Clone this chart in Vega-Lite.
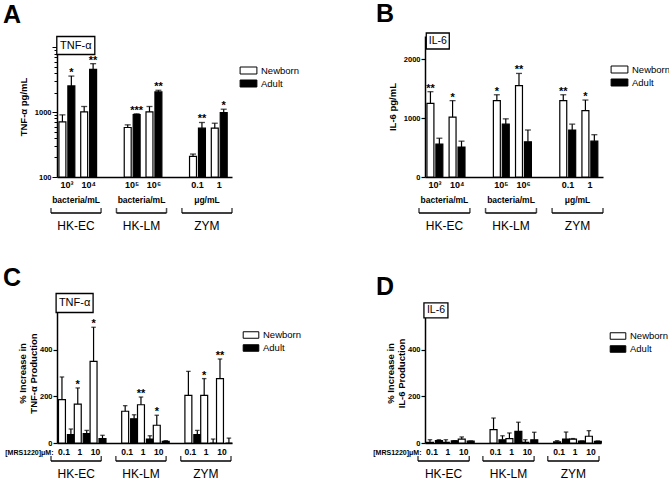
{
  "$schema": "https://vega.github.io/schema/vega-lite/v6.json",
  "background": "white",
  "padding": {"left": 3, "top": 2, "right": 0, "bottom": 0},
  "config": {
    "font": "Liberation Sans",
    "view": {"stroke": null},
    "axis": {"domainColor": "black", "tickColor": "black", "labelColor": "black", "titleColor": "black", "grid": false},
    "legend": {"labelColor": "black"},
    "title": {"color": "black"},
    "text": {"color": "black"}
  },
  "datasets": {
    "A": [
      {"stim": "HK-EC", "dose": "10³", "age": "Newborn", "mean": 710, "upper": 910, "sig": ""},
      {"stim": "HK-EC", "dose": "10³", "age": "Adult", "mean": 2540, "upper": 3610, "sig": "*"},
      {"stim": "HK-EC", "dose": "10⁴", "age": "Newborn", "mean": 1010, "upper": 1225, "sig": ""},
      {"stim": "HK-EC", "dose": "10⁴", "age": "Adult", "mean": 4580, "upper": 5610, "sig": "**"},
      {"stim": "HK-LM", "dose": "10⁵", "age": "Newborn", "mean": 581, "upper": 638, "sig": ""},
      {"stim": "HK-LM", "dose": "10⁵", "age": "Adult", "mean": 921, "upper": 945, "sig": "***"},
      {"stim": "HK-LM", "dose": "10⁶", "age": "Newborn", "mean": 1010, "upper": 1225, "sig": ""},
      {"stim": "HK-LM", "dose": "10⁶", "age": "Adult", "mean": 2055, "upper": 2180, "sig": "**"},
      {"stim": "ZYM", "dose": "0.1", "age": "Newborn", "mean": 208, "upper": 226, "sig": ""},
      {"stim": "ZYM", "dose": "0.1", "age": "Adult", "mean": 567, "upper": 694, "sig": "**"},
      {"stim": "ZYM", "dose": "1", "age": "Newborn", "mean": 567, "upper": 676, "sig": ""},
      {"stim": "ZYM", "dose": "1", "age": "Adult", "mean": 988, "upper": 1112, "sig": "*"}
    ],
    "B": [
      {"stim": "HK-EC", "dose": "10³", "age": "Newborn", "mean": 1254, "upper": 1452, "sig": "**"},
      {"stim": "HK-EC", "dose": "10³", "age": "Adult", "mean": 560, "upper": 660, "sig": ""},
      {"stim": "HK-EC", "dose": "10⁴", "age": "Newborn", "mean": 1020, "upper": 1300, "sig": "*"},
      {"stim": "HK-EC", "dose": "10⁴", "age": "Adult", "mean": 510, "upper": 610, "sig": ""},
      {"stim": "HK-LM", "dose": "10⁵", "age": "Newborn", "mean": 1300, "upper": 1400, "sig": "*"},
      {"stim": "HK-LM", "dose": "10⁵", "age": "Adult", "mean": 900, "upper": 990, "sig": ""},
      {"stim": "HK-LM", "dose": "10⁶", "age": "Newborn", "mean": 1554, "upper": 1763, "sig": "**"},
      {"stim": "HK-LM", "dose": "10⁶", "age": "Adult", "mean": 600, "upper": 800, "sig": ""},
      {"stim": "ZYM", "dose": "0.1", "age": "Newborn", "mean": 1300, "upper": 1400, "sig": "**"},
      {"stim": "ZYM", "dose": "0.1", "age": "Adult", "mean": 800, "upper": 900, "sig": ""},
      {"stim": "ZYM", "dose": "1", "age": "Newborn", "mean": 1130, "upper": 1310, "sig": "*"},
      {"stim": "ZYM", "dose": "1", "age": "Adult", "mean": 610, "upper": 720, "sig": ""}
    ],
    "C": [
      {"stim": "HK-EC", "dose": "0.1", "slot": "HK-EC 0.1", "age": "Newborn", "mean": 186, "upper": 283, "sig": ""},
      {"stim": "HK-EC", "dose": "0.1", "slot": "HK-EC 0.1", "age": "Adult", "mean": 36, "upper": 60, "sig": ""},
      {"stim": "HK-EC", "dose": "1", "slot": "HK-EC 1", "age": "Newborn", "mean": 167, "upper": 236, "sig": "*"},
      {"stim": "HK-EC", "dose": "1", "slot": "HK-EC 1", "age": "Adult", "mean": 40, "upper": 54, "sig": ""},
      {"stim": "HK-EC", "dose": "10", "slot": "HK-EC 10", "age": "Newborn", "mean": 350, "upper": 496, "sig": "*"},
      {"stim": "HK-EC", "dose": "10", "slot": "HK-EC 10", "age": "Adult", "mean": 19, "upper": 33, "sig": ""},
      {"stim": "HK-LM", "dose": "0.1", "slot": "HK-LM 0.1", "age": "Newborn", "mean": 136, "upper": 160, "sig": ""},
      {"stim": "HK-LM", "dose": "0.1", "slot": "HK-LM 0.1", "age": "Adult", "mean": 104, "upper": 121, "sig": ""},
      {"stim": "HK-LM", "dose": "1", "slot": "HK-LM 1", "age": "Newborn", "mean": 164, "upper": 197, "sig": "**"},
      {"stim": "HK-LM", "dose": "1", "slot": "HK-LM 1", "age": "Adult", "mean": 17, "upper": 31, "sig": ""},
      {"stim": "HK-LM", "dose": "10", "slot": "HK-LM 10", "age": "Newborn", "mean": 76, "upper": 119, "sig": "*"},
      {"stim": "HK-LM", "dose": "10", "slot": "HK-LM 10", "age": "Adult", "mean": 7, "upper": 10, "sig": ""},
      {"stim": "ZYM", "dose": "0.1", "slot": "ZYM 0.1", "age": "Newborn", "mean": 204, "upper": 307, "sig": ""},
      {"stim": "ZYM", "dose": "0.1", "slot": "ZYM 0.1", "age": "Adult", "mean": 36, "upper": 54, "sig": ""},
      {"stim": "ZYM", "dose": "1", "slot": "ZYM 1", "age": "Newborn", "mean": 204, "upper": 276, "sig": "*"},
      {"stim": "ZYM", "dose": "1", "slot": "ZYM 1", "age": "Adult", "mean": 0, "upper": 17, "sig": ""},
      {"stim": "ZYM", "dose": "10", "slot": "ZYM 10", "age": "Newborn", "mean": 276, "upper": 360, "sig": "**"},
      {"stim": "ZYM", "dose": "10", "slot": "ZYM 10", "age": "Adult", "mean": 0, "upper": 21, "sig": ""}
    ],
    "D": [
      {"stim": "HK-EC", "dose": "0.1", "slot": "HK-EC 0.1", "age": "Newborn", "mean": 3, "upper": 14, "sig": ""},
      {"stim": "HK-EC", "dose": "0.1", "slot": "HK-EC 0.1", "age": "Adult", "mean": 10, "upper": 14, "sig": ""},
      {"stim": "HK-EC", "dose": "1", "slot": "HK-EC 1", "age": "Newborn", "mean": 3, "upper": 14, "sig": ""},
      {"stim": "HK-EC", "dose": "1", "slot": "HK-EC 1", "age": "Adult", "mean": 9, "upper": 10, "sig": ""},
      {"stim": "HK-EC", "dose": "10", "slot": "HK-EC 10", "age": "Newborn", "mean": 17, "upper": 26, "sig": ""},
      {"stim": "HK-EC", "dose": "10", "slot": "HK-EC 10", "age": "Adult", "mean": 8, "upper": 9, "sig": ""},
      {"stim": "HK-LM", "dose": "0.1", "slot": "HK-LM 0.1", "age": "Newborn", "mean": 57, "upper": 107, "sig": ""},
      {"stim": "HK-LM", "dose": "0.1", "slot": "HK-LM 0.1", "age": "Adult", "mean": 14, "upper": 31, "sig": ""},
      {"stim": "HK-LM", "dose": "1", "slot": "HK-LM 1", "age": "Newborn", "mean": 19, "upper": 43, "sig": ""},
      {"stim": "HK-LM", "dose": "1", "slot": "HK-LM 1", "age": "Adult", "mean": 50, "upper": 89, "sig": ""},
      {"stim": "HK-LM", "dose": "10", "slot": "HK-LM 10", "age": "Newborn", "mean": 3, "upper": 14, "sig": ""},
      {"stim": "HK-LM", "dose": "10", "slot": "HK-LM 10", "age": "Adult", "mean": 14, "upper": 46, "sig": ""},
      {"stim": "ZYM", "dose": "0.1", "slot": "ZYM 0.1", "age": "Newborn", "mean": 5, "upper": 10, "sig": ""},
      {"stim": "ZYM", "dose": "0.1", "slot": "ZYM 0.1", "age": "Adult", "mean": 17, "upper": 47, "sig": ""},
      {"stim": "ZYM", "dose": "1", "slot": "ZYM 1", "age": "Newborn", "mean": 17, "upper": 19, "sig": ""},
      {"stim": "ZYM", "dose": "1", "slot": "ZYM 1", "age": "Adult", "mean": 8, "upper": 9, "sig": ""},
      {"stim": "ZYM", "dose": "10", "slot": "ZYM 10", "age": "Newborn", "mean": 29, "upper": 53, "sig": ""},
      {"stim": "ZYM", "dose": "10", "slot": "ZYM 10", "age": "Adult", "mean": 7, "upper": 9, "sig": ""}
    ],
    "stripAB": [
      {"group": "HK-EC", "unit": "bacteria/mL"},
      {"group": "HK-LM", "unit": "bacteria/mL"},
      {"group": "ZYM", "unit": "μg/mL"}
    ],
    "stripCD": [
      {"group": "HK-EC"},
      {"group": "HK-LM"},
      {"group": "ZYM"}
    ]
  },
  "columns": 2,
  "spacing": {"row": 33, "column": 70},
  "resolve": {"scale": {"fill": "independent"}, "legend": {"fill": "independent"}},
  "concat": [
    {
      "spacing": 7,
      "vconcat": [
        {
          "width": 175, "height": 141,
          "title": {"text": "A", "anchor": "start", "frame": "group", "dx": -54, "fontSize": 25, "fontWeight": "bold", "offset": 6},
          "layer": [
            {
              "data": {"name": "A"},
              "encoding": {
                "x": {"field": "dose", "type": "nominal", "sort": null,
                  "scale": {"domain": ["10³", "10⁴", " ", "10⁵", "10⁶", "  ", "0.1", "1"], "paddingInner": 0.18, "paddingOuter": 0.11, "align": 0.2},
                  "axis": {"title": null, "ticks": false, "labelAngle": 0, "domainWidth": 1.5, "labelFontWeight": "bold", "labelFontSize": 9, "labelPadding": 3, "labelOverlap": false}},
                "xOffset": {"field": "age", "type": "nominal", "scale": {"domain": ["Newborn", "Adult"], "paddingInner": 0.222, "paddingOuter": 0.11}}
              },
              "layer": [
                {
                  "mark": {"type": "bar", "stroke": "black", "strokeWidth": 1.2},
                  "encoding": {
                    "y": {"field": "mean", "type": "quantitative", "scale": {"type": "log", "domain": [100, 15000], "nice": false},
                      "axis": {"title": "TNF-α pg/mL", "values": [100, 200, 300, 400, 500, 600, 700, 800, 900, 1000, 2000, 3000, 4000, 5000, 6000, 7000, 8000, 9000, 10000],
                        "labelExpr": "datum.value == 100 || datum.value == 1000 ? datum.value + '' : ''",
                        "tickSize": {"condition": {"test": "datum.value == 100 || datum.value == 1000 || datum.value == 10000", "value": 5}, "value": 3},
                        "domainWidth": 1.5, "tickWidth": 1, "labelFontWeight": "bold", "labelFontSize": 7.5, "labelPadding": 1,
                        "titleFontSize": 9.5, "titleFontWeight": "bold", "titlePadding": 6}},
                    "y2": {"datum": 100},
                    "fill": {"field": "age", "type": "nominal", "scale": {"domain": ["Newborn", "Adult"], "range": ["white", "black"]},
                      "legend": {"title": null, "orient": "none", "legendX": 184, "legendY": 27, "symbolType": "M-1.2,-0.5H1.2V0.5H-1.2Z", "symbolSize": 196, "symbolStrokeColor": "black", "symbolStrokeWidth": 1, "labelFontSize": 9.5, "labelOffset": 5, "rowPadding": 0, "padding": 0}}
                  }
                },
                {"mark": {"type": "rule", "color": "black", "strokeWidth": 1.2},
                  "encoding": {"y": {"field": "mean", "type": "quantitative"}, "y2": {"field": "upper"}}},
                {"mark": {"type": "tick", "color": "black", "thickness": 1.3, "size": 6, "orient": "horizontal"},
                  "encoding": {"y": {"field": "upper", "type": "quantitative"}}},
                {"mark": {"type": "text", "fontSize": 11, "fontWeight": "bold", "baseline": "alphabetic"},
                  "encoding": {"y": {"field": "upper", "type": "quantitative"}, "text": {"field": "sig"}}}
              ]
            },
            {
              "data": {"values": [{"label": "TNF-α"}]},
              "mark": {"type": "point", "shape": "M-1,-0.474H1V0.474H-1Z", "size": 1444, "filled": true, "fill": "white", "stroke": "black", "strokeWidth": 1.3, "opacity": 1},
              "encoding": {"x": {"datum": "10³", "type": "nominal", "bandPosition": 1}, "y": {"datum": 10700, "type": "quantitative"}}
            },
            {
              "data": {"values": [{"label": "TNF-α"}]},
              "mark": {"type": "text", "fontSize": 11},
              "encoding": {"x": {"datum": "10³", "type": "nominal", "bandPosition": 1}, "y": {"datum": 10700, "type": "quantitative"}, "text": {"field": "label"}}
            }
          ]
        },
        {
          "width": 175, "height": 26,
          "data": {"name": "stripAB"},
          "layer": [
            {"mark": {"type": "text", "fontSize": 8.5, "fontWeight": "bold", "baseline": "middle"},
              "encoding": {
                "x": {"field": "group", "type": "nominal", "sort": null, "scale": {"domain": ["HK-EC", "HK-LM", "ZYM"], "range": [-6, 175], "paddingInner": 0.235, "paddingOuter": 0}, "axis": null},
                "y": {"datum": "unit", "type": "nominal", "scale": {"type": "point", "domain": ["unit", "bracket", "name"], "padding": 0}, "axis": null},
                "text": {"field": "unit"}}},
            {"mark": {"type": "rule", "strokeWidth": 1.5, "color": "black"},
              "encoding": {"x": {"field": "group", "type": "nominal", "bandPosition": 0}, "x2": {"field": "group", "bandPosition": 1}, "y": {"datum": "bracket", "type": "nominal"}}},
            {"mark": {"type": "tick", "orient": "vertical", "size": 5, "thickness": 1.5, "yOffset": -2.5, "color": "black"},
              "encoding": {"x": {"field": "group", "type": "nominal", "bandPosition": 0}, "y": {"datum": "bracket", "type": "nominal"}}},
            {"mark": {"type": "tick", "orient": "vertical", "size": 5, "thickness": 1.5, "yOffset": -2.5, "color": "black"},
              "encoding": {"x": {"field": "group", "type": "nominal", "bandPosition": 1}, "y": {"datum": "bracket", "type": "nominal"}}},
            {"mark": {"type": "text", "fontSize": 12, "baseline": "middle"},
              "encoding": {"x": {"field": "group", "type": "nominal"}, "y": {"datum": "name", "type": "nominal"}, "text": {"field": "group"}}}
          ]
        }
      ]
    },
    {
      "spacing": 7,
      "vconcat": [
        {
          "width": 178, "height": 141,
          "title": {"text": "B", "anchor": "start", "frame": "group", "dx": -49, "fontSize": 25, "fontWeight": "bold", "offset": 3},
          "layer": [
            {
              "data": {"name": "B"},
              "encoding": {
                "x": {"field": "dose", "type": "nominal", "sort": null,
                  "scale": {"domain": ["10³", "10⁴", " ", "10⁵", "10⁶", "  ", "0.1", "1"], "paddingInner": 0.18, "paddingOuter": 0.11, "align": 0.2},
                  "axis": {"title": null, "ticks": false, "labelAngle": 0, "domainWidth": 1.5, "labelFontWeight": "bold", "labelFontSize": 9, "labelPadding": 3, "labelOverlap": false}},
                "xOffset": {"field": "age", "type": "nominal", "scale": {"domain": ["Newborn", "Adult"], "paddingInner": 0.222, "paddingOuter": 0.11}}
              },
              "layer": [
                {
                  "mark": {"type": "bar", "stroke": "black", "strokeWidth": 1.2},
                  "encoding": {
                    "y": {"field": "mean", "type": "quantitative", "scale": {"domain": [0, 2400], "nice": false},
                      "axis": {"title": "IL-6 pg/mL", "values": [0, 500, 1000, 1500, 2000], "format": "d", "tickSize": 4,
                        "domainWidth": 1.5, "tickWidth": 1.2, "labelFontWeight": "bold", "labelFontSize": 7.5, "labelPadding": 1,
                        "titleFontSize": 9.5, "titleFontWeight": "bold", "titlePadding": 6}},
                    "fill": {"field": "age", "type": "nominal", "scale": {"domain": ["Newborn", "Adult"], "range": ["white", "black"]},
                      "legend": {"title": null, "orient": "none", "legendX": 187, "legendY": 26, "symbolType": "M-1.2,-0.5H1.2V0.5H-1.2Z", "symbolSize": 196, "symbolStrokeColor": "black", "symbolStrokeWidth": 1, "labelFontSize": 9.5, "labelOffset": 5, "rowPadding": 0, "padding": 0}}
                  }
                },
                {"mark": {"type": "rule", "color": "black", "strokeWidth": 1.2},
                  "encoding": {"y": {"field": "mean", "type": "quantitative"}, "y2": {"field": "upper"}}},
                {"mark": {"type": "tick", "color": "black", "thickness": 1.3, "size": 6, "orient": "horizontal"},
                  "encoding": {"y": {"field": "upper", "type": "quantitative"}}},
                {"mark": {"type": "text", "fontSize": 11, "fontWeight": "bold", "baseline": "alphabetic"},
                  "encoding": {"y": {"field": "upper", "type": "quantitative"}, "text": {"field": "sig"}}}
              ]
            },
            {
              "data": {"values": [{"label": "IL-6"}]},
              "mark": {"type": "point", "shape": "M-1,-0.696H1V0.696H-1Z", "size": 529, "filled": true, "fill": "white", "stroke": "black", "strokeWidth": 1.3, "opacity": 1},
              "encoding": {"x": {"datum": "10³", "type": "nominal", "bandPosition": 0.65}, "y": {"datum": 2315, "type": "quantitative"}}
            },
            {
              "data": {"values": [{"label": "IL-6"}]},
              "mark": {"type": "text", "fontSize": 10.5},
              "encoding": {"x": {"datum": "10³", "type": "nominal", "bandPosition": 0.65}, "y": {"datum": 2315, "type": "quantitative"}, "text": {"field": "label"}}
            }
          ]
        },
        {
          "width": 178, "height": 26,
          "data": {"name": "stripAB"},
          "layer": [
            {"mark": {"type": "text", "fontSize": 8.5, "fontWeight": "bold", "baseline": "middle"},
              "encoding": {
                "x": {"field": "group", "type": "nominal", "sort": null, "scale": {"domain": ["HK-EC", "HK-LM", "ZYM"], "range": [-6, 178], "paddingInner": 0.235, "paddingOuter": 0}, "axis": null},
                "y": {"datum": "unit", "type": "nominal", "scale": {"type": "point", "domain": ["unit", "bracket", "name"], "padding": 0}, "axis": null},
                "text": {"field": "unit"}}},
            {"mark": {"type": "rule", "strokeWidth": 1.5, "color": "black"},
              "encoding": {"x": {"field": "group", "type": "nominal", "bandPosition": 0}, "x2": {"field": "group", "bandPosition": 1}, "y": {"datum": "bracket", "type": "nominal"}}},
            {"mark": {"type": "tick", "orient": "vertical", "size": 5, "thickness": 1.5, "yOffset": -2.5, "color": "black"},
              "encoding": {"x": {"field": "group", "type": "nominal", "bandPosition": 0}, "y": {"datum": "bracket", "type": "nominal"}}},
            {"mark": {"type": "tick", "orient": "vertical", "size": 5, "thickness": 1.5, "yOffset": -2.5, "color": "black"},
              "encoding": {"x": {"field": "group", "type": "nominal", "bandPosition": 1}, "y": {"datum": "bracket", "type": "nominal"}}},
            {"mark": {"type": "text", "fontSize": 12, "baseline": "middle"},
              "encoding": {"x": {"field": "group", "type": "nominal"}, "y": {"datum": "name", "type": "nominal"}, "text": {"field": "group"}}}
          ]
        }
      ]
    },
    {
      "spacing": 0,
      "vconcat": [
        {
          "width": 175, "height": 140,
          "title": {"text": "C", "anchor": "start", "frame": "group", "dx": -54, "fontSize": 25, "fontWeight": "bold", "offset": 0},
          "layer": [
            {
              "data": {"name": "C"},
              "encoding": {
                "x": {"field": "slot", "type": "nominal", "sort": null,
                  "scale": {"domain": ["HK-EC 0.1", "HK-EC 1", "HK-EC 10", " ", "HK-LM 0.1", "HK-LM 1", "HK-LM 10", "  ", "ZYM 0.1", "ZYM 1", "ZYM 10"], "paddingInner": 0.18, "paddingOuter": 0.127, "align": 0.125},
                  "axis": {"title": "[MRS1220]μM:", "titleAnchor": "start", "titleAlign": "right", "titleBaseline": "middle", "titleX": -4, "titleY": 9.5, "titleFontSize": 7, "titleFontWeight": "bold",
                    "labelExpr": "split(datum.value, ' ')[1]", "ticks": false, "labelAngle": 0, "domainWidth": 1.5, "labelFontWeight": "bold", "labelFontSize": 8.5, "labelPadding": 4, "labelOverlap": false}},
                "xOffset": {"field": "age", "type": "nominal", "scale": {"domain": ["Newborn", "Adult"], "paddingInner": 0.214, "paddingOuter": 0.04}}
              },
              "layer": [
                {
                  "mark": {"type": "bar", "stroke": "black", "strokeWidth": 1.2},
                  "encoding": {
                    "y": {"field": "mean", "type": "quantitative", "scale": {"domain": [0, 600], "nice": false},
                      "axis": {"title": ["% Increase in", "TNF-α Production"], "values": [0, 100, 200, 300, 400, 500], "tickSize": 4,
                        "domainWidth": 1.5, "tickWidth": 1.2, "labelFontWeight": "bold", "labelFontSize": 7.5, "labelPadding": 1,
                        "titleFontSize": 9.5, "titleFontWeight": "bold", "titlePadding": 1, "titleLineHeight": 11}},
                    "fill": {"field": "age", "type": "nominal", "scale": {"domain": ["Newborn", "Adult"], "range": ["white", "black"]},
                      "legend": {"title": null, "orient": "none", "legendX": 187, "legendY": 25, "symbolType": "M-1.2,-0.5H1.2V0.5H-1.2Z", "symbolSize": 169, "symbolStrokeColor": "black", "symbolStrokeWidth": 1, "labelFontSize": 9.5, "labelOffset": 5, "rowPadding": 0, "padding": 0}}
                  }
                },
                {"mark": {"type": "rule", "color": "black", "strokeWidth": 1.2},
                  "encoding": {"y": {"field": "mean", "type": "quantitative"}, "y2": {"field": "upper"}}},
                {"mark": {"type": "tick", "color": "black", "thickness": 1.3, "size": 4.5, "orient": "horizontal"},
                  "encoding": {"y": {"field": "upper", "type": "quantitative"}}},
                {"mark": {"type": "text", "fontSize": 11, "fontWeight": "bold", "baseline": "alphabetic"},
                  "encoding": {"y": {"field": "upper", "type": "quantitative"}, "text": {"field": "sig"}}}
              ]
            },
            {
              "data": {"values": [{"label": "TNF-α"}]},
              "mark": {"type": "point", "shape": "M-1,-0.514H1V0.514H-1Z", "size": 1369, "filled": true, "fill": "white", "stroke": "black", "strokeWidth": 1.3, "opacity": 1},
              "encoding": {"x": {"datum": "HK-EC 1", "type": "nominal", "bandPosition": 0.1}, "y": {"datum": 600, "type": "quantitative"}}
            },
            {
              "data": {"values": [{"label": "TNF-α"}]},
              "mark": {"type": "text", "fontSize": 11},
              "encoding": {"x": {"datum": "HK-EC 1", "type": "nominal", "bandPosition": 0.1}, "y": {"datum": 600, "type": "quantitative"}, "text": {"field": "label"}}
            }
          ]
        },
        {
          "width": 175, "height": 13,
          "data": {"name": "stripCD"},
          "layer": [
            {"mark": {"type": "rule", "strokeWidth": 1.5, "color": "black"},
              "encoding": {
                "x": {"field": "group", "type": "nominal", "sort": null, "bandPosition": 0, "scale": {"domain": ["HK-EC", "HK-LM", "ZYM"], "range": [-6, 174], "paddingInner": 0.225, "paddingOuter": 0}, "axis": null},
                "x2": {"field": "group", "bandPosition": 1},
                "y": {"datum": "bracket", "type": "nominal", "scale": {"type": "point", "domain": ["bracket", "name"], "padding": 0}, "axis": null}}},
            {"mark": {"type": "tick", "orient": "vertical", "size": 5, "thickness": 1.5, "yOffset": -2.5, "color": "black"},
              "encoding": {"x": {"field": "group", "type": "nominal", "bandPosition": 0}, "y": {"datum": "bracket", "type": "nominal"}}},
            {"mark": {"type": "tick", "orient": "vertical", "size": 5, "thickness": 1.5, "yOffset": -2.5, "color": "black"},
              "encoding": {"x": {"field": "group", "type": "nominal", "bandPosition": 1}, "y": {"datum": "bracket", "type": "nominal"}}},
            {"mark": {"type": "text", "fontSize": 12, "baseline": "middle"},
              "encoding": {"x": {"field": "group", "type": "nominal"}, "y": {"datum": "name", "type": "nominal"}, "text": {"field": "group"}}}
          ]
        }
      ]
    },
    {
      "spacing": 0,
      "vconcat": [
        {
          "width": 176, "height": 140,
          "title": {"text": "D", "anchor": "start", "frame": "group", "dx": -49, "fontSize": 25, "fontWeight": "bold", "offset": 0},
          "layer": [
            {
              "data": {"name": "D"},
              "encoding": {
                "x": {"field": "slot", "type": "nominal", "sort": null,
                  "scale": {"domain": ["HK-EC 0.1", "HK-EC 1", "HK-EC 10", " ", "HK-LM 0.1", "HK-LM 1", "HK-LM 10", "  ", "ZYM 0.1", "ZYM 1", "ZYM 10"], "paddingInner": 0.18, "paddingOuter": 0.127, "align": 0.125},
                  "axis": {"title": "[MRS1220]μM:", "titleAnchor": "start", "titleAlign": "right", "titleBaseline": "middle", "titleX": -4, "titleY": 9.5, "titleFontSize": 7, "titleFontWeight": "bold",
                    "labelExpr": "split(datum.value, ' ')[1]", "ticks": false, "labelAngle": 0, "domainWidth": 1.5, "labelFontWeight": "bold", "labelFontSize": 8.5, "labelPadding": 4, "labelOverlap": false}},
                "xOffset": {"field": "age", "type": "nominal", "scale": {"domain": ["Newborn", "Adult"], "paddingInner": 0.214, "paddingOuter": 0.04}}
              },
              "layer": [
                {
                  "mark": {"type": "bar", "stroke": "black", "strokeWidth": 1.2},
                  "encoding": {
                    "y": {"field": "mean", "type": "quantitative", "scale": {"domain": [0, 600], "nice": false},
                      "axis": {"title": ["% Increase in", "IL-6 Production"], "values": [0, 100, 200, 300, 400, 500], "tickSize": 4,
                        "domainWidth": 1.5, "tickWidth": 1.2, "labelFontWeight": "bold", "labelFontSize": 7.5, "labelPadding": 1,
                        "titleFontSize": 9.5, "titleFontWeight": "bold", "titlePadding": 1, "titleLineHeight": 11}},
                    "fill": {"field": "age", "type": "nominal", "scale": {"domain": ["Newborn", "Adult"], "range": ["white", "black"]},
                      "legend": {"title": null, "orient": "none", "legendX": 186, "legendY": 26, "symbolType": "M-1.2,-0.5H1.2V0.5H-1.2Z", "symbolSize": 169, "symbolStrokeColor": "black", "symbolStrokeWidth": 1, "labelFontSize": 9.5, "labelOffset": 5, "rowPadding": 0, "padding": 0}}
                  }
                },
                {"mark": {"type": "rule", "color": "black", "strokeWidth": 1.2},
                  "encoding": {"y": {"field": "mean", "type": "quantitative"}, "y2": {"field": "upper"}}},
                {"mark": {"type": "tick", "color": "black", "thickness": 1.3, "size": 4.5, "orient": "horizontal"},
                  "encoding": {"y": {"field": "upper", "type": "quantitative"}}}
              ]
            },
            {
              "data": {"values": [{"label": "IL-6"}]},
              "mark": {"type": "point", "shape": "M-1,-0.625H1V0.625H-1Z", "size": 576, "filled": true, "fill": "white", "stroke": "black", "strokeWidth": 1.3, "opacity": 1},
              "encoding": {"x": {"datum": "HK-EC 0.1", "type": "nominal", "bandPosition": 0.8}, "y": {"datum": 568, "type": "quantitative"}}
            },
            {
              "data": {"values": [{"label": "IL-6"}]},
              "mark": {"type": "text", "fontSize": 10.5},
              "encoding": {"x": {"datum": "HK-EC 0.1", "type": "nominal", "bandPosition": 0.8}, "y": {"datum": 568, "type": "quantitative"}, "text": {"field": "label"}}
            }
          ]
        },
        {
          "width": 176, "height": 13,
          "data": {"name": "stripCD"},
          "layer": [
            {"mark": {"type": "rule", "strokeWidth": 1.5, "color": "black"},
              "encoding": {
                "x": {"field": "group", "type": "nominal", "sort": null, "bandPosition": 0, "scale": {"domain": ["HK-EC", "HK-LM", "ZYM"], "range": [-7, 174], "paddingInner": 0.21, "paddingOuter": 0}, "axis": null},
                "x2": {"field": "group", "bandPosition": 1},
                "y": {"datum": "bracket", "type": "nominal", "scale": {"type": "point", "domain": ["bracket", "name"], "padding": 0}, "axis": null}}},
            {"mark": {"type": "tick", "orient": "vertical", "size": 5, "thickness": 1.5, "yOffset": -2.5, "color": "black"},
              "encoding": {"x": {"field": "group", "type": "nominal", "bandPosition": 0}, "y": {"datum": "bracket", "type": "nominal"}}},
            {"mark": {"type": "tick", "orient": "vertical", "size": 5, "thickness": 1.5, "yOffset": -2.5, "color": "black"},
              "encoding": {"x": {"field": "group", "type": "nominal", "bandPosition": 1}, "y": {"datum": "bracket", "type": "nominal"}}},
            {"mark": {"type": "text", "fontSize": 12, "baseline": "middle"},
              "encoding": {"x": {"field": "group", "type": "nominal"}, "y": {"datum": "name", "type": "nominal"}, "text": {"field": "group"}}}
          ]
        }
      ]
    }
  ]
}
